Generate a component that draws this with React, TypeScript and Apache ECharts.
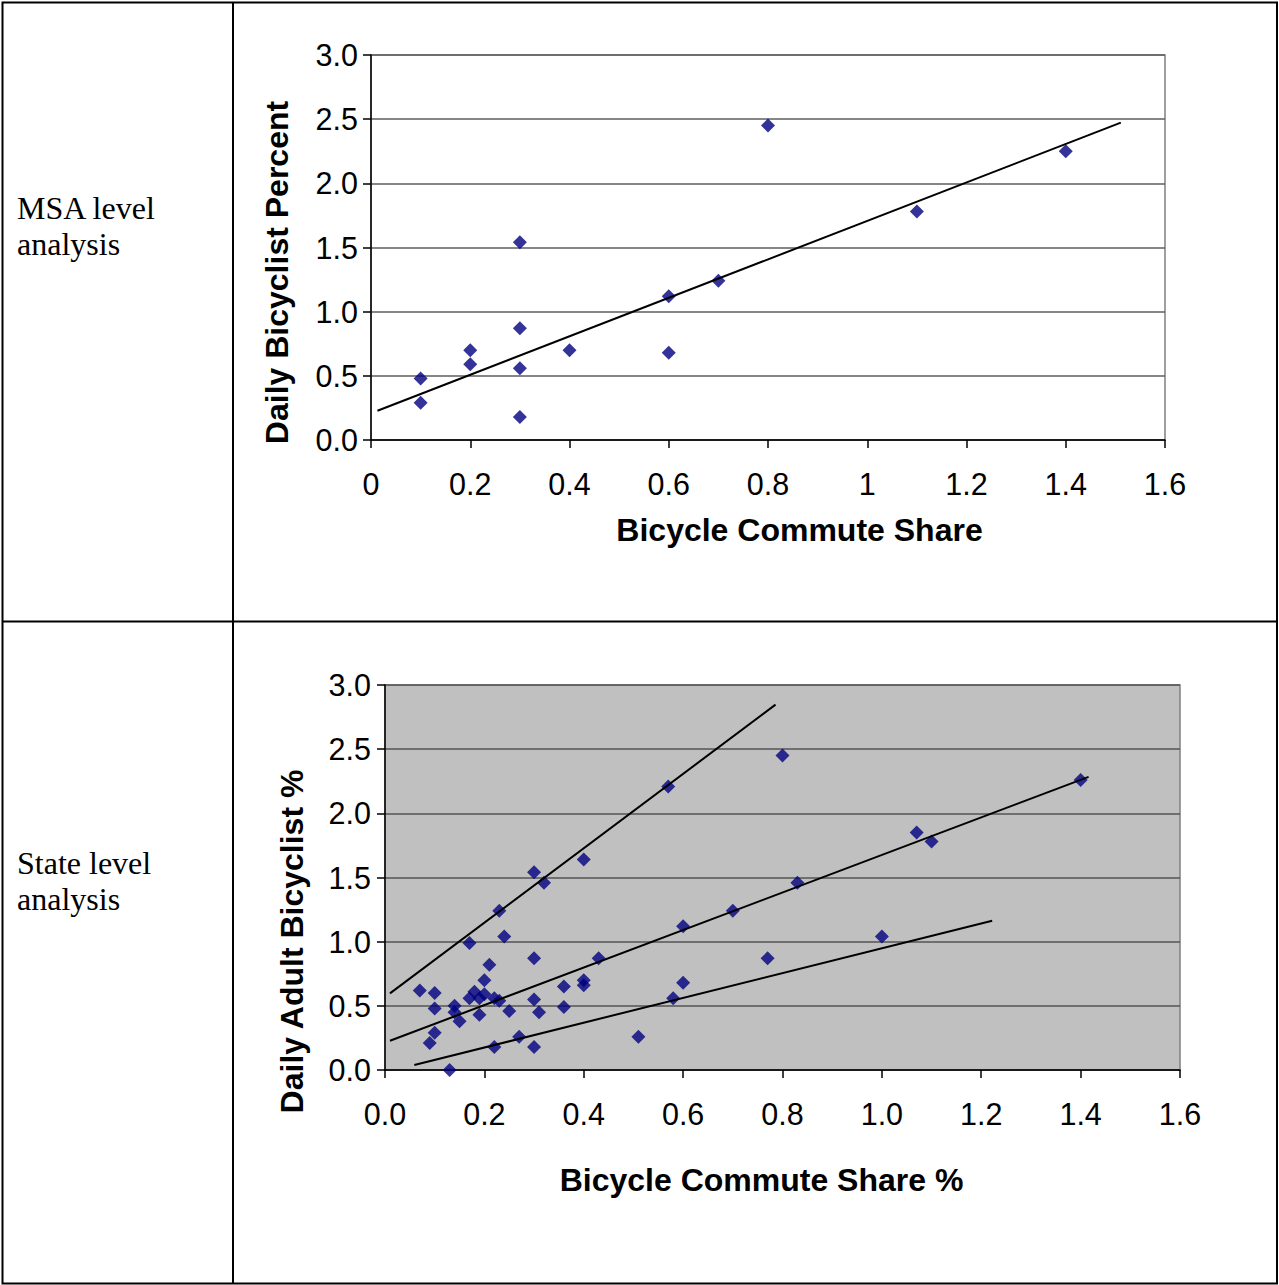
import React, { useEffect, useRef } from 'react';
import * as echarts from 'echarts';

// MSA level data
const msaShare = [0.1, 0.1, 0.2, 0.2, 0.3, 0.3, 0.3, 0.3, 0.4, 0.6, 0.6, 0.7, 0.8, 1.1, 1.4];
const msaPercent = [0.48, 0.29, 0.7, 0.59, 1.54, 0.87, 0.56, 0.18, 0.7, 1.12, 0.68, 1.24, 2.45, 1.78, 2.25];
const msaTrendX = [0.013, 1.511];
const msaTrendY = [0.228, 2.473];

// State level data
const stateShare = [
  0.07, 0.1, 0.1, 0.1, 0.09, 0.13, 0.14, 0.14, 0.15, 0.17, 0.17, 0.18, 0.19, 0.19, 0.2, 0.2, 0.21,
  0.22, 0.23, 0.22, 0.23, 0.24, 0.25, 0.27, 0.3, 0.3, 0.3, 0.3, 0.31, 0.32, 0.36, 0.36, 0.4, 0.4,
  0.4, 0.43, 0.51, 0.57, 0.58, 0.6, 0.6, 0.7, 0.77, 0.8, 0.83, 1.0, 1.07, 1.1, 1.4,
];
const statePercent = [
  0.62, 0.6, 0.48, 0.29, 0.21, 0.0, 0.5, 0.45, 0.38, 0.99, 0.56, 0.61, 0.56, 0.43, 0.7, 0.59, 0.82,
  0.56, 1.24, 0.18, 0.54, 1.04, 0.46, 0.26, 1.54, 0.87, 0.55, 0.18, 0.45, 1.46, 0.65, 0.49, 1.64, 0.7,
  0.66, 0.87, 0.26, 2.21, 0.56, 1.12, 0.68, 1.24, 0.87, 2.45, 1.46, 1.04, 1.85, 1.78, 2.26,
];
const upperTrendX = [0.01, 0.786];
const upperTrendY = [0.597, 2.847];
const middleTrendX = [0.01, 1.416];
const middleTrendY = [0.228, 2.284];
const lowerTrendX = [0.059, 1.222];
const lowerTrendY = [0.039, 1.163];

const rowLabels = [
  ['MSA level', 'analysis'],
  ['State level', 'analysis'],
];

const SANS = '"Liberation Sans", Arial, sans-serif';
const SERIF = '"Liberation Serif", "Times New Roman", serif';

const zip = (xs: number[], ys: number[]) => xs.map((x, i) => [x, ys[i]]);

export default function App() {
  const ref = useRef<HTMLDivElement>(null);

  useEffect(() => {
    const chart = echarts.init(ref.current!, null, { renderer: 'svg' });

    const axisLine = { show: true, onZero: false, lineStyle: { color: '#000', width: 1.5 } };
    const axisTick = { show: true, inside: false, length: 8, lineStyle: { color: '#000', width: 1.5 } };
    const labelStyle = { color: '#000', fontSize: 30.5, fontFamily: SANS };
    const nameStyleBase = { color: '#000', fontSize: 32, fontWeight: 'bold' as const, fontFamily: SANS };

    const trendStyle = { color: '#000', width: 2 };
    const marker = { symbol: 'diamond', symbolSize: 14, itemStyle: { color: '#000080' } };

    const option: any = {
      animation: false,
      backgroundColor: '#fff',
      grid: [
        {
          left: 371, top: 55, width: 794, height: 385,
          show: true, backgroundColor: '#fff', borderColor: '#808080', borderWidth: 1.5,
        },
        {
          left: 385, top: 685, width: 795, height: 385,
          show: true, backgroundColor: '#C0C0C0', borderColor: '#808080', borderWidth: 1.5,
        },
      ],
      xAxis: [
        {
          type: 'value', gridIndex: 0, min: 0, max: 1.6, interval: 0.2,
          axisLine, axisTick, splitLine: { show: false },
          axisLabel: { ...labelStyle, margin: 28 },
          name: 'Bicycle Commute Share', nameLocation: 'middle', nameGap: 74,
          nameTextStyle: { ...nameStyleBase, padding: [0, 0, 0, 63] },
        },
        {
          type: 'value', gridIndex: 1, min: 0, max: 1.6, interval: 0.2,
          axisLine, axisTick, splitLine: { show: false },
          axisLabel: { ...labelStyle, margin: 28, formatter: (v: number) => v.toFixed(1) },
          name: 'Bicycle Commute Share %', nameLocation: 'middle', nameGap: 94,
          nameTextStyle: { ...nameStyleBase, padding: [0, 42, 0, 0] },
        },
      ],
      yAxis: [
        {
          type: 'value', gridIndex: 0, min: 0, max: 3, interval: 0.5,
          axisLine, axisTick,
          splitLine: { show: true, lineStyle: { color: '#5e5e5e', width: 1.5 } },
          axisLabel: { ...labelStyle, margin: 13, formatter: (v: number) => v.toFixed(1) },
          name: 'Daily Bicyclist Percent', nameLocation: 'middle', nameRotate: 90, nameGap: 78,
          nameTextStyle: { ...nameStyleBase, fontSize: 32, padding: [0, 50, 0, 0] },
        },
        {
          type: 'value', gridIndex: 1, min: 0, max: 3, interval: 0.5,
          axisLine, axisTick,
          splitLine: { show: true, lineStyle: { color: '#555', width: 1.5 } },
          axisLabel: { ...labelStyle, margin: 14, formatter: (v: number) => v.toFixed(1) },
          name: 'Daily Adult Bicyclist %', nameLocation: 'middle', nameRotate: 90, nameGap: 77,
          nameTextStyle: { ...nameStyleBase, fontSize: 32, padding: [0, 128, 0, 0] },
        },
      ],
      series: [
        {
          type: 'line', xAxisIndex: 0, yAxisIndex: 0, data: zip(msaTrendX, msaTrendY),
          showSymbol: false, lineStyle: trendStyle, z: 3, silent: true,
        },
        {
          type: 'scatter', xAxisIndex: 0, yAxisIndex: 0, data: zip(msaShare, msaPercent),
          ...marker, z: 2,
        },
        {
          type: 'line', xAxisIndex: 1, yAxisIndex: 1, data: zip(upperTrendX, upperTrendY),
          showSymbol: false, lineStyle: trendStyle, z: 3, silent: true,
        },
        {
          type: 'line', xAxisIndex: 1, yAxisIndex: 1, data: zip(middleTrendX, middleTrendY),
          showSymbol: false, lineStyle: trendStyle, z: 3, silent: true,
        },
        {
          type: 'line', xAxisIndex: 1, yAxisIndex: 1, data: zip(lowerTrendX, lowerTrendY),
          showSymbol: false, lineStyle: trendStyle, z: 3, silent: true,
        },
        {
          type: 'scatter', xAxisIndex: 1, yAxisIndex: 1, data: zip(stateShare, statePercent),
          ...marker, z: 2,
        },
      ],
      graphic: [
        {
          type: 'rect', silent: true, z: 10,
          shape: { x: 2.5, y: 2.5, width: 1274.5, height: 1281 },
          style: { fill: 'none', stroke: '#000', lineWidth: 2 },
        },
        {
          type: 'line', silent: true, z: 10,
          shape: { x1: 233, y1: 2.5, x2: 233, y2: 1283.5 },
          style: { stroke: '#000', lineWidth: 2 },
        },
        {
          type: 'line', silent: true, z: 10,
          shape: { x1: 2.5, y1: 621.5, x2: 1277, y2: 621.5 },
          style: { stroke: '#000', lineWidth: 2 },
        },
        { type: 'text', x: 17, y: 207.5, style: { text: rowLabels[0][0], font: `32px ${SERIF}`, fill: '#000', textVerticalAlign: 'middle' } },
        { type: 'text', x: 17, y: 244, style: { text: rowLabels[0][1], font: `32px ${SERIF}`, fill: '#000', textVerticalAlign: 'middle' } },
        { type: 'text', x: 17, y: 862.5, style: { text: rowLabels[1][0], font: `32px ${SERIF}`, fill: '#000', textVerticalAlign: 'middle' } },
        { type: 'text', x: 17, y: 899, style: { text: rowLabels[1][1], font: `32px ${SERIF}`, fill: '#000', textVerticalAlign: 'middle' } },
      ],
    };

    chart.setOption(option);
    return () => chart.dispose();
  }, []);

  return (
    <div
      ref={ref}
      style={{ position: 'absolute', left: 0, top: 0, width: 1279, height: 1285, background: '#fff' }}
    />
  );
}
